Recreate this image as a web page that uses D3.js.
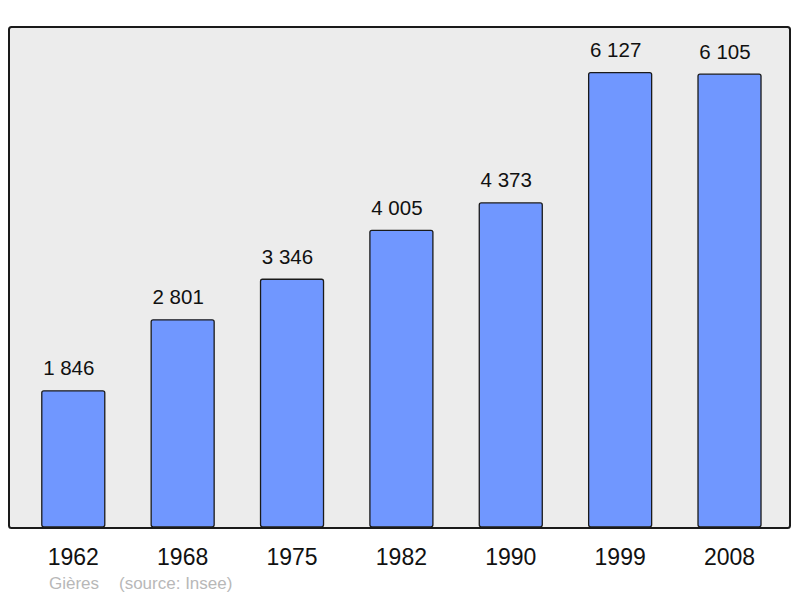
<!DOCTYPE html>
<html>
<head>
<meta charset="utf-8">
<script src="https://cdn.jsdelivr.net/npm/d3@7"></script>
<style>
  html, body { margin: 0; padding: 0; background: #ffffff; }
  svg { display: block; font-family: "Liberation Sans", Arial, sans-serif; }
</style>
</head>
<body>
<svg id="chart" width="800" height="598"></svg>
<script>
const years = ["1962", "1968", "1975", "1982", "1990", "1999", "2008"];
const population = [1846, 2801, 3346, 4005, 4373, 6127, 6105];
const valueLabels = ["1 846", "2 801", "3 346", "4 005", "4 373", "6 127", "6 105"];
const commune = "Gières";
const source = "(source: Insee)";

const svg = d3.select("#chart");
const plot = { left: 9, top: 27, right: 790, bottom: 528 };

const x = d3.scaleBand()
  .domain(years)
  .range([18.6, 784.2])
  .paddingInner(0.424)
  .paddingOuter(0.212);

const y = d3.scaleLinear()
  .domain([0, d3.max(population) * 1.1])
  .range([plot.bottom, plot.top]);

// background panel
svg.append("rect")
  .attr("x", plot.left).attr("y", plot.top)
  .attr("width", plot.right - plot.left)
  .attr("height", plot.bottom - plot.top)
  .attr("rx", 2.5).attr("ry", 2.5)
  .attr("fill", "#ececec");

const data = years.map((yr, i) => ({ year: yr, value: population[i], label: valueLabels[i] }));

// bars
svg.append("g").selectAll("rect")
  .data(data)
  .join("rect")
  .attr("x", d => x(d.year))
  .attr("y", d => y(d.value))
  .attr("width", x.bandwidth())
  .attr("height", d => y(0) - y(d.value) - 1.2)
  .attr("rx", 2).attr("ry", 2)
  .attr("fill", "#7097ff")
  .attr("stroke", "#1a1a1a")
  .attr("stroke-width", 1.3);

// value labels
svg.append("g").selectAll("text")
  .data(data)
  .join("text")
  .attr("x", d => x(d.year) + x.bandwidth() / 2 - 4.5)
  .attr("y", d => y(d.value) - 15.5)
  .attr("text-anchor", "middle")
  .attr("font-size", 20.5)
  .attr("fill", "#111")
  .text(d => d.label);

// panel border (drawn over bar bottoms)
svg.append("rect")
  .attr("x", plot.left).attr("y", plot.top)
  .attr("width", plot.right - plot.left)
  .attr("height", plot.bottom - plot.top)
  .attr("rx", 2.5).attr("ry", 2.5)
  .attr("fill", "none")
  .attr("stroke", "#1a1a1a")
  .attr("stroke-width", 2);

// x axis labels
const xAxis = d3.axisBottom(x).tickSize(0).tickPadding(0);
const gx = svg.append("g")
  .attr("transform", `translate(0, ${plot.bottom})`)
  .call(xAxis);
gx.select(".domain").remove();
gx.selectAll("text")
  .attr("y", 37)
  .attr("dy", 0)
  .attr("font-size", 23)
  .attr("font-family", "Liberation Sans, Arial, sans-serif")
  .attr("fill", "#111");

// footer
svg.append("text")
  .attr("x", 49).attr("y", 589)
  .attr("font-size", 17)
  .attr("fill", "#b8b8b8")
  .text(commune);
svg.append("text")
  .attr("x", 119).attr("y", 589)
  .attr("font-size", 17)
  .attr("fill", "#b8b8b8")
  .text(source);
</script>
</body>
</html>
